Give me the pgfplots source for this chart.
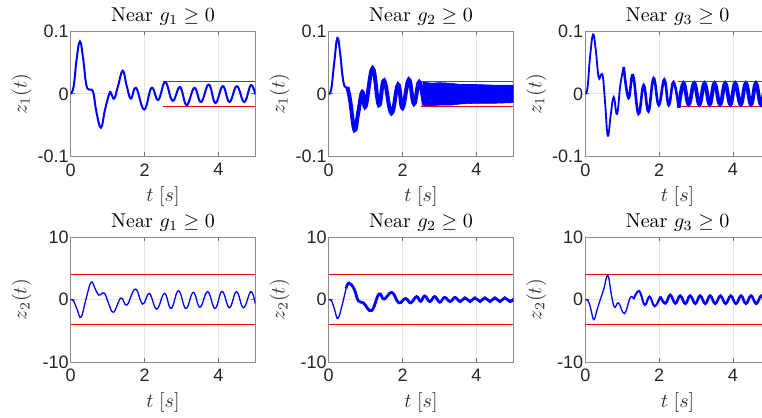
\documentclass[border=0pt]{standalone}
\usepackage{pgfplots}
\pgfplotsset{compat=1.18}
\usepackage{fontspec}
\newfontfamily\arial{Liberation Sans}
\pgfplotsset{
 every axis title/.style={at={(axis description cs:0.5,1)}, anchor=base, yshift=5pt, font=\fontsize{10}{12}\selectfont},
 every axis y label/.style={at={(axis description cs:0,0.5)}, anchor=center, xshift=-24.5pt, rotate=90, font=\fontsize{10}{12}\selectfont, text=black!80},
 every axis x label/.style={at={(axis description cs:0.5,0)}, anchor=center, yshift=-20pt, font=\fontsize{10}{12}\selectfont, text=black!80},
 myax/.style={
  scale only axis, width=92.3pt, height=62.5pt,
  anchor=south west,
  xmin=0,xmax=5, xtick={0,2,4}, xticklabels={0,2,4},
  axis line style={black!45}, tick style={black!55, line width=0.4pt},
  tick align=inside, major tick length=2pt,
  grid=major, grid style={black!10, line width=0.4pt},
  /pgf/number format/assume math mode=true,
  ticklabel style={font=\arial\fontsize{9}{10}\selectfont, text=black!85},
  yticklabel style={xshift=2.5pt},
  xlabel={$t\;[s]$},
  clip=true,
 },
 row1/.style={myax, ymin=-0.1,ymax=0.1,ytick={-0.1,0,0.1},yticklabels={-0.1,0,0.1},ylabel={$z_1(t)$}},
 row2/.style={myax, ymin=-10,ymax=10,ytick={-10,0,10},yticklabels={-10,0,10},ylabel={$z_2(t)$}},
 bl/.style={blue, smooth, tension=0.7, no markers},
}
\begin{document}
\begin{tikzpicture}
\useasboundingbox (0,0) rectangle (381pt,209pt);
% ---------- row 1 ----------
\begin{axis}[row1, at={(35.35pt,130.8pt)}, title={Near $g_1 \geq 0$}]
\addplot[red, line width=0.6pt] coordinates {(2.5,0.02) (5,0.02)};
\addplot[red, line width=0.6pt] coordinates {(2.5,-0.02) (5,-0.02)};
\addplot[bl, line width=1pt] coordinates {
(0,0) (0.08,0.012) (0.16,0.055) (0.25,0.084) (0.34,0.055) (0.42,0.015) (0.50,0.007) (0.56,0.007)
(0.62,0.0) (0.70,-0.03) (0.82,-0.054) (0.93,-0.025) (1.05,0.001) (1.1,0.0) (1.18,-0.0075)
(1.28,0.012) (1.41,0.037) (1.52,0.012) (1.63,-0.0075) (1.77,0.0097) (1.99,-0.025) (2.19,0.0097)
(2.37,-0.0097) (2.56,0.019) (2.76,-0.011) (2.96,0.011) (3.14,-0.018) (3.35,0.0097) (3.53,-0.013)
(3.74,0.015) (3.92,-0.0146) (4.12,0.0124) (4.30,-0.013) (4.50,0.0124) (4.70,-0.013) (4.88,0.014) (5.0,-0.001)};
\end{axis}
\begin{axis}[row1, at={(164.35pt,130.8pt)}, title={Near $g_2 \geq 0$}]
\addplot[red, line width=0.6pt] coordinates {(2.5,0.02) (5,0.02)};
\addplot[red, line width=0.6pt] coordinates {(2.5,-0.02) (5,-0.02)};
\addplot[bl, line width=1pt] coordinates {
(0,0) (0.07,0.008) (0.15,0.05) (0.235,0.0895) (0.31,0.065) (0.37,0.031) (0.43,0.012) (0.505,0.011)};
\addplot[bl, line width=2pt] coordinates {
(0.505,0.011) (0.58,-0.01) (0.70,-0.058) (0.80,-0.03) (0.91,0.003) (1.0,-0.02) (1.19,0.041)
(1.36,-0.018) (1.50,0.0215) (1.70,-0.031) (1.88,0.015) (2.0,-0.0226) (2.17,0.023) (2.31,-0.016)
(2.45,0.019) (2.58,-0.018)};
\addplot[blue, fill=blue, draw=blue, line width=0.3pt] coordinates {
(2.55,0.019) (2.8,0.017) (3.0,0.018) (3.3,0.017) (3.6,0.015) (4.0,0.015) (4.5,0.014) (5,0.014)
(5,-0.014) (4.5,-0.015) (4.0,-0.015) (3.6,-0.016) (3.3,-0.018) (3.0,-0.018) (2.8,-0.019) (2.55,-0.019)} -- cycle;
\end{axis}
\begin{axis}[row1, at={(292.65pt,130.8pt)}, title={Near $g_3 \geq 0$}]
\addplot[red, line width=0.6pt] coordinates {(2.5,0.02) (5,0.02)};
\addplot[red, line width=0.6pt] coordinates {(2.5,-0.02) (5,-0.02)};
\addplot[bl, line width=0.9pt] coordinates {
(0,0) (0.06,0.01) (0.13,0.06) (0.21,0.095) (0.28,0.072) (0.36,0.027) (0.43,0.031) (0.48,0.026)
(0.54,-0.017) (0.61,-0.067) (0.69,-0.033) (0.77,-0.005) (0.86,-0.032) (0.95,0.015) (1.04,0.043)};
\addplot[bl, line width=1.3pt] coordinates {
(1.04,0.043) (1.17,-0.0065) (1.29,0.030) (1.44,-0.032) (1.58,0.014) (1.71,-0.028) (1.85,0.025)
(1.99,-0.018) (2.14,0.023) (2.26,-0.018) (2.39,0.019) (2.53,-0.022)};
\addplot[bl, line width=1.9pt] coordinates {
(2.53,-0.022) (2.66,0.017) (2.80,-0.017) (2.95,0.017) (3.09,-0.017) (3.23,0.017) (3.37,-0.017)
(3.50,0.017) (3.65,-0.017) (3.79,0.017) (3.93,-0.017) (4.06,0.017) (4.21,-0.017) (4.35,0.017)
(4.49,-0.017) (4.62,0.017) (4.76,-0.017) (4.90,0.017) (5.04,-0.017)};
\end{axis}
% ---------- row 2 ----------
\begin{axis}[row2, at={(35.35pt,27.9pt)}, title={Near $g_1 \geq 0$}]
\addplot[red, line width=0.6pt] coordinates {(0,4) (5,4)};
\addplot[red, line width=0.6pt] coordinates {(0,-4) (5,-4)};
\addplot[bl, line width=0.65pt] coordinates {
(0,0) (0.08,-0.2) (0.17,-1.5) (0.28,-2.8) (0.41,0) (0.55,2.77) (0.66,1.8) (0.76,0.74) (0.91,1.06)
(1.02,-0.5) (1.16,-2.0) (1.36,0.27) (1.52,-0.85) (1.75,1.7) (1.95,-0.7) (2.13,1.0) (2.33,-1.5)
(2.54,1.0) (2.72,-1.4) (2.92,1.44) (3.12,-1.4) (3.32,1.17) (3.50,-1.2) (3.71,1.28) (3.91,-1.4)
(4.10,1.33) (4.30,-1.28) (4.49,1.28) (4.68,-1.28) (4.88,1.28) (5.0,-0.7)};
\end{axis}
\begin{axis}[row2, at={(164.35pt,27.9pt)}, title={Near $g_2 \geq 0$}]
\addplot[red, line width=0.6pt] coordinates {(0,4) (5,4)};
\addplot[red, line width=0.6pt] coordinates {(0,-4) (5,-4)};
\addplot[bl, line width=0.65pt] coordinates {
(0,0) (0.08,-0.2) (0.16,-1.6) (0.25,-3.0) (0.37,-0.7) (0.47,1.8)};
\addplot[bl, line width=1.4pt] coordinates {
(0.47,1.8) (0.55,2.66) (0.69,1.7) (0.80,-0.16) (0.94,-0.5) (1.16,-1.75) (1.36,0.9) (1.5,0.1)
(1.71,1.17) (1.90,-0.5) (2.08,0.2) (2.22,-0.5) (2.38,0.5) (2.49,-0.27) (2.6,0.6) (2.74,-0.3)
(2.87,0.5) (3.01,-0.4) (3.14,0.37) (3.29,-0.3) (3.42,0.37) (3.56,-0.3) (3.69,0.3) (3.83,-0.3)
(3.96,0.3) (4.10,-0.3) (4.23,0.3) (4.37,-0.3) (4.5,0.3) (4.64,-0.3) (4.77,0.3) (4.91,-0.3) (5.04,0.3)};
\end{axis}
\begin{axis}[row2, at={(292.65pt,27.9pt)}, title={Near $g_3 \geq 0$}]
\addplot[red, line width=0.6pt] coordinates {(0,4) (5,4)};
\addplot[red, line width=0.6pt] coordinates {(0,-4) (5,-4)};
\addplot[bl, line width=0.65pt] coordinates {
(0,0) (0.08,-0.2) (0.15,-1.5) (0.23,-3.2) (0.32,-1.6) (0.41,0.1) (0.50,1.7) (0.61,3.9) (0.70,1.0)
(0.79,-1.2) (0.90,-0.5) (1.06,-2.2) (1.22,0.37) (1.31,0.1)};
\addplot[bl, line width=1pt] coordinates {
(1.31,0.1) (1.46,1.4) (1.61,-0.85) (1.74,0.5) (1.88,-1.06) (2.03,0.5)};
\addplot[bl, line width=1.3pt] coordinates {
(2.03,0.5) (2.17,-0.6) (2.30,0.75) (2.44,-0.6) (2.57,0.64) (2.71,-0.64) (2.84,0.64) (2.98,-0.64)
(3.11,0.64) (3.25,-0.64) (3.38,0.64) (3.52,-0.64) (3.66,0.64) (3.80,-0.64) (3.94,0.64) (4.08,-0.64)
(4.22,0.64) (4.35,-0.64) (4.49,0.64) (4.63,-0.64) (4.77,0.64) (4.90,-0.64) (5.04,0.64)};
\end{axis}
\end{tikzpicture}
\end{document}
